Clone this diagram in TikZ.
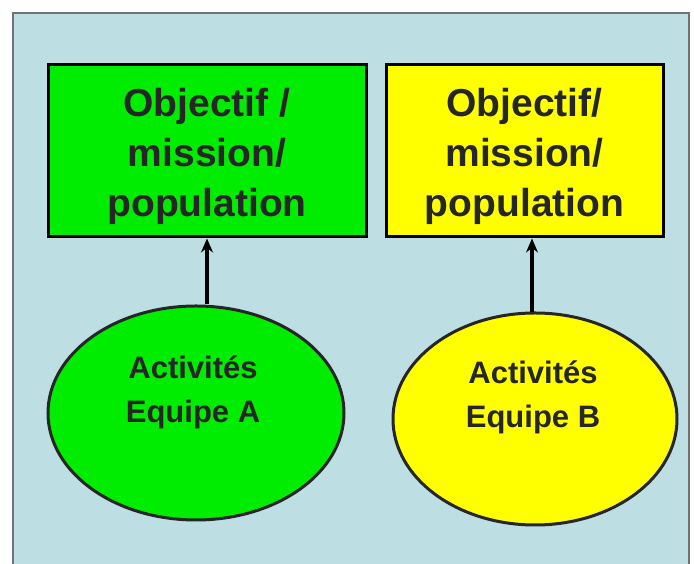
\documentclass[tikz,border=0pt]{standalone}
\usepackage{fontspec}
\setmainfont{Liberation Sans}
\usetikzlibrary{shapes.geometric,arrows.meta}
\definecolor{bgblue}{RGB}{189,223,227}
\definecolor{bggray}{RGB}{110,115,118}
\definecolor{brightgreen}{RGB}{0,236,0}
\definecolor{brightyellow}{RGB}{255,255,0}
\tikzset{
  x=1pt,y=1pt,
  goalbox/.style={draw=black,line width=3pt,minimum width=#1,minimum height=172pt,inner sep=0pt},
  goaltext/.style={inner sep=0pt,font=\fontsize{39}{50}\selectfont\bfseries,align=center,text=black!85},
  teamellipse/.style={ellipse,draw=black!85,line width=3pt,inner sep=0pt},
  teamtext/.style={inner sep=0pt,font=\fontsize{31}{44}\selectfont\bfseries,align=center,text=black!85},
  link/.style={line width=3.5pt,-{Stealth[length=14pt,width=12pt]}}
}
\begin{document}
\begin{tikzpicture}
\useasboundingbox (0,0) rectangle (694,564);
\fill[bgblue] (13,0) rectangle (689,551);
\draw[bggray,line width=2pt] (13,0) -- (13,551) -- (689,551) -- (689,0);
\node[goalbox=318pt,fill=brightgreen] (goalA) at (207,413) {};
\node[goalbox=277pt,fill=brightyellow] (goalB) at (524.5,413) {};
\node[goaltext] (goalAtext) at (207,408) {Objectif /\\mission/\\population};
\node[goaltext] (goalBtext) at (524.5,408) {Objectif/\\mission/\\population};
\node[teamellipse,fill=brightgreen,minimum width=296pt,minimum height=214pt] (teamA) at (196,151) {};
\node[teamellipse,fill=brightyellow,minimum width=284pt,minimum height=212pt] (teamB) at (535,145) {};
\node[teamtext] (teamAtext) at (193,172) {Activités\\Equipe A};
\node[teamtext] (teamBtext) at (533,167) {Activités\\Equipe B};
\draw[link] (teamA.north -| goalA.south) -- (goalA.south);
\draw[link] (532,252) coordinate (tB) -- (tB |- goalB.south);
\end{tikzpicture}
\end{document}
